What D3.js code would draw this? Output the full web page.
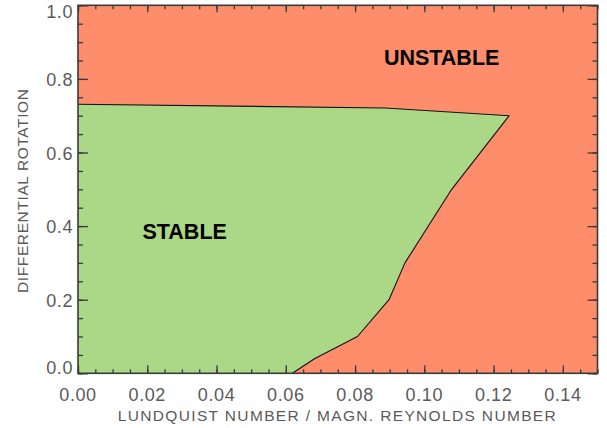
<!DOCTYPE html>
<html>
<head>
<meta charset="utf-8">
<script src="https://cdn.jsdelivr.net/npm/d3@7"></script>
<style>
  html, body { margin: 0; padding: 0; background: #fff; }
  svg { display: block; }
  text { font-family: "Liberation Sans", Arial, sans-serif; }
</style>
</head>
<body>
<svg id="chart" width="607" height="428"></svg>
<script>
// Stability boundary: (Lundquist number^-1, differential rotation)
const boundaryX = [0.000, 0.0887, 0.1245, 0.1079, 0.0944, 0.0898, 0.0807, 0.0684, 0.0619];
const boundaryY = [0.731, 0.721, 0.700, 0.500, 0.300, 0.200, 0.100, 0.040, 0.000];

const xTicks = [0.00, 0.02, 0.04, 0.06, 0.08, 0.10, 0.12, 0.14];
const yTicks = [0.0, 0.2, 0.4, 0.6, 0.8, 1.0];
const xDomain = [0, 0.15];
const yDomain = [0, 1.0];

const regionLabels = [
  { text: "UNSTABLE", x: 0.1050, y: 0.857 },
  { text: "STABLE", x: 0.0308, y: 0.384 }
];

const xTitle = "LUNDQUIST NUMBER / MAGN. REYNOLDS NUMBER";
const yTitle = "DIFFERENTIAL ROTATION";

const colors = { unstable: "#FE8D6B", stable: "#AAD886", axis: "#3a3a3a", tickText: "#5a5a5a" };

const svg = d3.select("#chart");
const m = { left: 78, right: 9.5, top: 5.3, bottom: 54.7 };
const W = 607, H = 428;

const x = d3.scaleLinear().domain(xDomain).range([m.left, W - m.right]);
const y = d3.scaleLinear().domain(yDomain).range([H - m.bottom, m.top]);

// Unstable background
svg.append("rect")
  .attr("x", x(xDomain[0])).attr("y", y(yDomain[1]))
  .attr("width", x(xDomain[1]) - x(xDomain[0]))
  .attr("height", y(yDomain[0]) - y(yDomain[1]))
  .attr("fill", colors.unstable);

// Stable region bounded by the axes and the boundary curve
const pts = boundaryX.map((d, i) => [d, boundaryY[i]]);
const poly = [[0, 0]].concat(pts);
svg.append("path")
  .attr("d", d3.line().x(d => x(d[0])).y(d => y(d[1]))(poly) + "Z")
  .attr("fill", colors.stable);

svg.append("path")
  .attr("d", d3.line().x(d => x(d[0])).y(d => y(d[1]))(pts))
  .attr("fill", "none")
  .attr("stroke", "#111")
  .attr("stroke-width", 1.1)
  .attr("stroke-linejoin", "round");

// Region labels
svg.selectAll("text.region").data(regionLabels).join("text")
  .attr("class", "region")
  .attr("x", d => x(d.x)).attr("y", d => y(d.y))
  .attr("text-anchor", "middle")
  .attr("dominant-baseline", "central")
  .attr("font-size", 21.5)
  .attr("font-weight", "bold")
  .attr("fill", "#000")
  .text(d => d.text);

// Axes with inward ticks on all four sides
const xMinor = d3.range(0, 0.15001, 0.005);
const yMinor = d3.range(0, 1.0001, 0.05);

function addAxis(axis, transform) {
  const g = svg.append("g").attr("transform", transform).call(axis);
  g.select(".domain").remove();
  g.selectAll("line").attr("stroke", colors.axis).attr("stroke-width", 1.3);
  g.selectAll("text").remove();
  return g;
}
const fy = H - m.bottom, fx = W - m.right;
addAxis(d3.axisBottom(x).tickValues(xMinor).tickSize(-4), `translate(0,${fy})`);
addAxis(d3.axisBottom(x).tickValues(xTicks).tickSize(-8), `translate(0,${fy})`);
addAxis(d3.axisTop(x).tickValues(xMinor).tickSize(-4), `translate(0,${m.top})`);
addAxis(d3.axisTop(x).tickValues(xTicks).tickSize(-7), `translate(0,${m.top})`);
addAxis(d3.axisLeft(y).tickValues(yMinor).tickSize(-5), `translate(${m.left},0)`);
addAxis(d3.axisLeft(y).tickValues(yTicks).tickSize(-10), `translate(${m.left},0)`);
addAxis(d3.axisRight(y).tickValues(yMinor).tickSize(-5), `translate(${fx},0)`);
addAxis(d3.axisRight(y).tickValues(yTicks).tickSize(-10), `translate(${fx},0)`);

// Frame
svg.append("rect")
  .attr("x", m.left).attr("y", m.top)
  .attr("width", fx - m.left).attr("height", fy - m.top)
  .attr("fill", "none").attr("stroke", colors.axis).attr("stroke-width", 1.6);

// Tick labels
svg.selectAll("text.xt").data(xTicks).join("text")
  .attr("class", "xt")
  .attr("x", d => x(d)).attr("y", fy + 28)
  .attr("text-anchor", "middle")
  .attr("font-size", 18)
  .attr("letter-spacing", 0.6)
  .attr("fill", colors.tickText)
  .text(d => d3.format(".2f")(d));

svg.selectAll("text.yt").data(yTicks).join("text")
  .attr("class", "yt")
  .attr("x", m.left - 5).attr("y", d => y(d))
  .attr("dy", d => d === 1.0 ? 13 : d === 0 ? 1 : 7)
  .attr("text-anchor", "end")
  .attr("font-size", 18)
  .attr("letter-spacing", 0.6)
  .attr("fill", colors.tickText)
  .text(d => d3.format(".1f")(d));

// Axis titles
svg.append("text")
  .attr("x", (m.left + fx) / 2 - 1).attr("y", 421)
  .attr("text-anchor", "middle")
  .attr("font-size", 15.5)
  .attr("textLength", 438).attr("lengthAdjust", "spacing")
  .attr("fill", colors.tickText)
  .text(xTitle);

svg.append("text")
  .attr("transform", "translate(28,191) rotate(-90)")
  .attr("text-anchor", "middle")
  .attr("font-size", 15.5)
  .attr("textLength", 204).attr("lengthAdjust", "spacing")
  .attr("fill", colors.tickText)
  .text(yTitle);
</script>
</body>
</html>
